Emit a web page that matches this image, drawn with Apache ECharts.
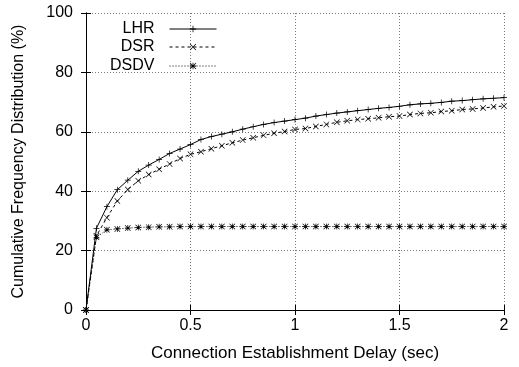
<!DOCTYPE html>
<html>
<head>
<meta charset="utf-8">
<script src="https://cdn.jsdelivr.net/npm/echarts@6/dist/echarts.min.js"></script>
<style>
  html, body { margin: 0; padding: 0; background: #fff; }
  #chart { width: 519px; height: 367px; }
</style>
</head>
<body>
<div id="chart"></div>
<script>
// connection establishment delay (sec)
const delays = [0, 0.05, 0.1, 0.15, 0.2, 0.25, 0.3, 0.35, 0.4, 0.45, 0.5,
  0.55, 0.6, 0.65, 0.7, 0.75, 0.8, 0.85, 0.9, 0.95, 1.0,
  1.05, 1.1, 1.15, 1.2, 1.25, 1.3, 1.35, 1.4, 1.45, 1.5,
  1.55, 1.6, 1.65, 1.7, 1.75, 1.8, 1.85, 1.9, 1.95, 2.0]

const lhr = [0, 27.5, 34.8, 40.5, 43.7, 46.7, 48.8, 50.7, 52.7, 54.2, 55.7,
  57.4, 58.4, 59.2, 60.0, 60.9, 61.7, 62.5, 63.1, 63.6, 64.1,
  64.6, 65.3, 65.8, 66.3, 66.7, 67.1, 67.5, 67.9, 68.2, 68.6,
  69.1, 69.4, 69.6, 69.9, 70.3, 70.5, 70.8, 71.1, 71.3, 71.5]

const dsr = [0, 25.0, 31.1, 36.7, 40.6, 43.5, 45.6, 47.4, 49.2, 51.0, 52.4,
  53.3, 54.3, 55.3, 56.3, 57.2, 58.0, 58.8, 59.5, 60.1, 60.8,
  61.1, 61.8, 62.5, 63.2, 63.7, 64.1, 64.4, 64.7, 65.1, 65.3,
  65.8, 66.2, 66.4, 66.8, 67.1, 67.5, 67.7, 68.0, 68.4, 68.7]

const dsdv = [0, 24.5, 27.0, 27.3, 27.6, 27.8, 27.9, 28.0, 28.0, 28.1, 28.1,
  28.1, 28.1, 28.1, 28.1, 28.1, 28.1, 28.1, 28.1, 28.1, 28.1,
  28.1, 28.1, 28.1, 28.1, 28.1, 28.1, 28.1, 28.1, 28.1, 28.1,
  28.1, 28.1, 28.1, 28.1, 28.1, 28.1, 28.1, 28.1, 28.1, 28.1]

const seriesNames = ['LHR', 'DSR', 'DSDV']

const font = 'Liberation Sans, Arial, sans-serif'

// gnuplot style point marks, built from thin bars
const plusMark = 'path://M4.4,0 h1.2 v10 h-1.2 z M0,4.4 h10 v1.2 h-10 z'
const crossMark = 'path://M0.8,0 L10,9.2 L9.2,10 L0,0.8 z M9.2,0 L10,0.8 L0.8,10 L0,9.2 z'
const starMark = 'path://M4.4,0 h1.2 v10 h-1.2 z M0,4.4 h10 v1.2 h-10 z M0.8,0 L10,9.2 L9.2,10 L0,0.8 z M9.2,0 L10,0.8 L0.8,10 L0,9.2 z'

const pairs = vals => delays.map((d, i) => [d, vals[i]])

const makeSeries = (name, vals, symbol, type) => ({
  name,
  type: 'line',
  data: pairs(vals),
  symbol,
  symbolSize: 6,
  showAllSymbol: true,
  animation: false,
  itemStyle: { color: '#000' },
  lineStyle: { color: '#000', width: 1, type }
})

const legendRow = (name, top) => ({
  data: [name],
  orient: 'vertical',
  right: 297,
  top,
  align: 'right',
  itemWidth: 47,
  itemHeight: 8,
  selectedMode: false,
  lineStyle: { width: 1 },
  textStyle: { fontSize: 16, fontFamily: font, color: '#000', padding: [0, 10, 0, 0] }
})

const chart = echarts.init(document.getElementById('chart'))

const axisLine = { show: true, lineStyle: { color: '#000', width: 1 } }
const tick = { show: true, inside: true, length: 5, lineStyle: { color: '#000' } }
const grid = { show: true, lineStyle: { color: '#777', type: [1, 2], width: 1 } }
const labelStyle = { fontSize: 16, fontFamily: font, color: '#000' }

const option = {
  animation: false,
  backgroundColor: '#fff',
  grid: { left: 86, right: 15, top: 13, bottom: 57 },
  legend: [
    legendRow('LHR', 16),
    legendRow('DSR', 34),
    legendRow('DSDV', 53)
  ],
  xAxis: [
    {
      type: 'value', min: 0, max: 2, interval: 0.5, position: 'bottom',
      name: 'Connection Establishment Delay (sec)',
      nameLocation: 'middle', nameGap: 35,
      nameTextStyle: { ...labelStyle, fontSize: 17 },
      axisLine, axisTick: tick, splitLine: grid,
      axisLabel: { ...labelStyle, margin: 8 }
    },
    {
      type: 'value', min: 0, max: 2, interval: 0.5, position: 'top',
      axisLine, axisTick: tick, splitLine: { show: false }, axisLabel: { show: false }
    }
  ],
  yAxis: [
    {
      type: 'value', min: 0, max: 100, interval: 20, position: 'left',
      name: 'Cumulative Frequency Distribution (%)',
      nameLocation: 'middle', nameGap: 59,
      nameTextStyle: labelStyle,
      axisLine, axisTick: tick, splitLine: grid,
      axisLabel: { ...labelStyle, margin: 13 }
    },
    {
      type: 'value', min: 0, max: 100, interval: 20, position: 'right',
      axisLine, axisTick: tick, splitLine: { show: false }, axisLabel: { show: false }
    }
  ],
  series: [
    makeSeries(seriesNames[0], lhr, plusMark, 'solid'),
    makeSeries(seriesNames[1], dsr, crossMark, [3, 3]),
    makeSeries(seriesNames[2], dsdv, starMark, [1, 2])
  ]
}

chart.setOption(option)
</script>
</body>
</html>
